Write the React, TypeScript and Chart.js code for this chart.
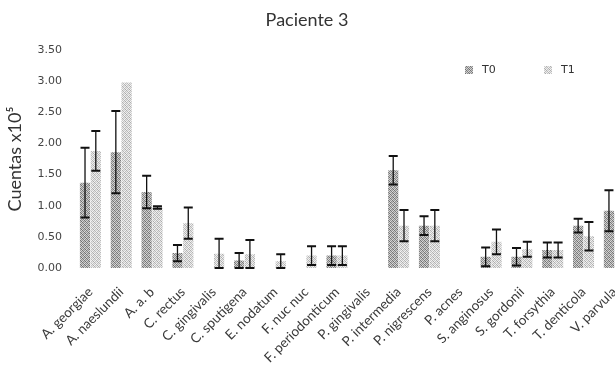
import React, { useEffect, useRef } from "react";
import { Chart, registerables } from "chart.js";

Chart.register(...registerables);

const categories = [
  "A. georgiae", "A. naeslundii", "A. a. b", "C. rectus", "C. gingivalis",
  "C. sputigena", "E. nodatum", "F. nuc nuc", "F. periodonticum", "P. gingivalis",
  "P. intermedia", "P. nigrescens", "P. acnes", "S. anginosus", "S. gordonii",
  "T. forsythia", "T. denticola", "V. parvula",
];
const seriesNames = ["T0", "T1"];
const t0Values = [1.37, 1.86, 1.22, 0.24, 0, 0.12, 0, 0, 0.2, 0, 1.57, 0.68, 0, 0.18, 0.18, 0.29, 0.68, 0.92];
const t1Values = [1.88, 2.98, 0.97, 0.72, 0.23, 0.22, 0.11, 0.2, 0.2, 0, 0.68, 0.68, 0, 0.42, 0.3, 0.29, 0.51, 0.88];
const t0Errors = [0.56, 0.66, 0.26, 0.13, 0, 0.12, 0, 0, 0.15, 0, 0.23, 0.15, 0, 0.15, 0.14, 0.12, 0.11, 0.33];
const t1Errors = [0.32, 0, 0.02, 0.25, 0.24, 0.23, 0.11, 0.15, 0.15, 0, 0.25, 0.25, 0, 0.2, 0.12, 0.12, 0.23, 0];
const yTicks = [0, 0.5, 1, 1.5, 2, 2.5, 3, 3.5];

function makePattern(levels: number[][]): CanvasPattern | string {
  const c = document.createElement("canvas");
  const n = levels.length;
  c.width = n;
  c.height = n;
  const ctx = c.getContext("2d");
  if (!ctx) return "#999";
  for (let y = 0; y < n; y++) {
    for (let x = 0; x < n; x++) {
      const g = levels[y][x];
      ctx.fillStyle = `rgb(${g},${g},${g})`;
      ctx.fillRect(x, y, 1, 1);
    }
  }
  return ctx.createPattern(c, "repeat") || "#999";
}

const errorBarPlugin = {
  id: "errorBars",
  afterDatasetsDraw(chart: any) {
    const ctx = chart.ctx;
    const yScale = chart.scales.y;
    const errs = [t0Errors, t1Errors];
    const vals = [t0Values, t1Values];
    ctx.save();
    ctx.strokeStyle = "#111";
    for (let d = 0; d < 2; d++) {
      const meta = chart.getDatasetMeta(d);
      meta.data.forEach((bar: any, i: number) => {
        const e = errs[d][i];
        if (!e) return;
        const v = vals[d][i];
        const top = yScale.getPixelForValue(v + e);
        const bot = yScale.getPixelForValue(Math.max(0, v - e));
        const x = bar.x;
        ctx.lineWidth = 1.3;
        ctx.beginPath();
        ctx.moveTo(x, top);
        ctx.lineTo(x, bot);
        ctx.stroke();
        ctx.lineWidth = 2;
        ctx.beginPath();
        ctx.moveTo(x - 4.5, top);
        ctx.lineTo(x + 4.5, top);
        ctx.moveTo(x - 4.5, bot);
        ctx.lineTo(x + 4.5, bot);
        ctx.stroke();
      });
    }
    ctx.restore();
  },
};

const decorPlugin = {
  id: "decor",
  afterDraw(chart: any) {
    const ctx = chart.ctx;
    ctx.save();
    ctx.fillStyle = "#333";
    ctx.font = "18px Lato";
    ctx.textAlign = "center";
    ctx.textBaseline = "middle";
    ctx.fillText("Paciente 3", 307, 20);
    const items = chart.data.datasets;
    const pos = [465, 544];
    ctx.font = "11px 'DejaVu Sans'";
    ctx.textAlign = "left";
    items.forEach((ds: any, i: number) => {
      ctx.fillStyle = ds.backgroundColor;
      ctx.fillRect(pos[i], 66, 8, 8);
      ctx.fillStyle = "#333";
      ctx.fillText(ds.label, pos[i] + 17, 70.5);
    });
    ctx.restore();
  },
};

export default function App() {
  const ref = useRef<HTMLCanvasElement>(null);
  useEffect(() => {
    if (!ref.current) return;
    const p0 = makePattern([
      [120, 200, 150, 210],
      [190, 110, 220, 140],
      [150, 215, 115, 195],
      [220, 140, 200, 125],
    ]);
    const p1 = makePattern([
      [180, 235, 200, 240],
      [230, 170, 245, 195],
      [205, 240, 175, 230],
      [245, 190, 228, 185],
    ]);
    const chart = new Chart(ref.current, {
      type: "bar",
      data: {
        labels: categories,
        datasets: [
          { label: seriesNames[0], data: t0Values, backgroundColor: p0 as any, barPercentage: 0.95, categoryPercentage: 0.7 },
          { label: seriesNames[1], data: t1Values, backgroundColor: p1 as any, barPercentage: 0.95, categoryPercentage: 0.7 },
        ],
      },
      options: {
        responsive: false,
        animation: false,
        layout: { padding: { top: 50, right: 7, left: 0, bottom: 0 } },
        plugins: { legend: { display: false }, title: { display: false }, tooltip: { enabled: false } },
        scales: {
          x: {
            grid: { display: false, drawTicks: false },
            border: { display: false },
            ticks: {
              autoSkip: false,
              maxRotation: 45,
              minRotation: 45,
              padding: 16,
              color: "#3a3a3a",
              font: { family: "Lato", size: 13.5 },
            },
            afterFit: (s: any) => { s.height = 100; },
          },
          y: {
            min: 0,
            max: 3.5,
            grid: { display: false, drawTicks: false },
            border: { display: false },
            afterBuildTicks: (s: any) => { s.ticks = yTicks.map((v) => ({ value: v })); },
            ticks: {
              padding: 13,
              color: "#444",
              font: { family: "'DejaVu Sans'", size: 11 },
              callback: (v: any) => Number(v).toFixed(2),
            },
            title: {
              display: true,
              text: "Cuentas x10⁵",
              color: "#333",
              font: { family: "Lato", size: 18 },
              padding: { top: 4, bottom: 0 },
            },
            afterFit: (s: any) => { s.width = 75; },
          },
        },
      },
      plugins: [errorBarPlugin, decorPlugin],
    });
    return () => chart.destroy();
  }, []);
  return (
    <div style={{ position: "fixed", left: 0, top: 0, width: 615, height: 368, overflow: "hidden", background: "#fff" }}>
      <canvas ref={ref} width={642} height={368} style={{ display: "block" }} />
    </div>
  );
}
